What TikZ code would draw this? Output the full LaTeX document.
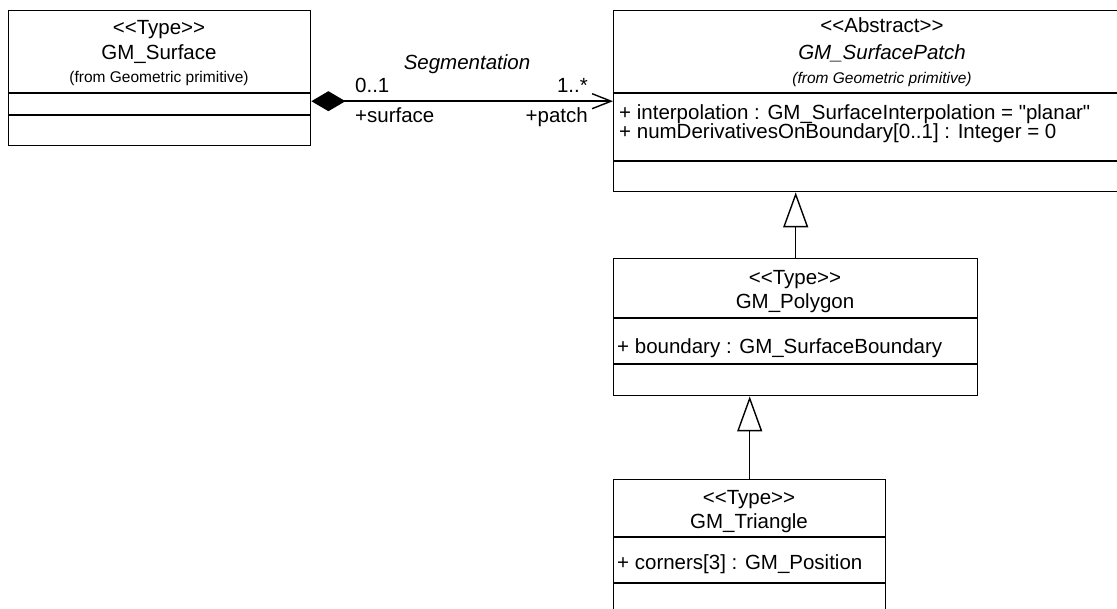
\documentclass[tikz,border=0pt]{standalone}
\usepackage{fontspec}
\setmainfont{Liberation Sans}[Ligatures=TeXOff]
\usetikzlibrary{arrows.meta,positioning}

\tikzset{
  classbox/.style={draw, line width=1.4pt, inner sep=0pt, anchor=north west},
  divider/.style={line width=1.4pt},
  classtext/.style={inner sep=0pt, anchor=base, font=\fontsize{20.5}{24}\selectfont},
  abstracttext/.style={classtext, font=\fontsize{20.5}{24}\selectfont\itshape},
  attrtext/.style={classtext, anchor=base west},
  fromtext/.style={inner sep=0pt, anchor=base, font=\fontsize{15.5}{18}\selectfont},
  rolelabel/.style={classtext},
  composition/.style={line width=1.4pt,
    {Diamond[length=34pt,width=20pt]}-{Straight Barb[length=19pt,width=15pt,line width=1.4pt]}},
  generalization/.style={line width=1.4pt,
    -{Triangle[open,length=35pt,width=25pt,fill=white,line width=1.4pt]}},
}

\begin{document}
\begin{tikzpicture}[x=1pt,y=-1pt]
\useasboundingbox (0,0) rectangle (1117,609);
\clip (0,0) rectangle (1117,609);

% class boxes
\node[classbox, minimum width=302, minimum height=135] (surface) at (8,10) {};
\node[classbox, minimum width=538, minimum height=181] (patch) at (613,10) {};
\node[classbox, minimum width=364, minimum height=137] (polygon) at (613,258) {};
\node[classbox, minimum width=272, minimum height=140] (triangle) at (613,479) {};

% compartments
\foreach \cls/\y in {surface/93, surface/115, patch/93, patch/161,
                     polygon/318, polygon/364, triangle/537, triangle/583}
  \draw[divider] (\cls.west |- 0,\y) -- (\cls.east |- 0,\y);

% GM_Surface
\node[classtext] (surface-st) at (159,35) {<<Type>>};
\node[classtext] (surface-nm) at (159,60) {GM\_Surface};
\node[fromtext] (surface-from) at (159,83) {(from Geometric primitive)};

% GM_SurfacePatch
\node[classtext] (patch-st) at (882,33) {<<Abstract>>};
\node[abstracttext] (patch-nm) at (882,60) {GM\_SurfacePatch};
\node[fromtext, font=\fontsize{15.5}{18}\selectfont\itshape] (patch-from) at (882,84) {(from Geometric primitive)};
\node[attrtext] (patch-a1) at (619,120) {+ interpolation : GM\_SurfaceInterpolation = "planar"};
\node[attrtext] (patch-a2) at (619,139) {+ numDerivativesOnBoundary[0..1] : Integer = 0};

% GM_Polygon
\node[classtext] (polygon-st) at (795,285) {<<Type>>};
\node[classtext] (polygon-nm) at (795,309) {GM\_Polygon};
\node[attrtext] (polygon-a1) at (617,354) {+ boundary : GM\_SurfaceBoundary};

% GM_Triangle
\node[classtext] (triangle-st) at (749,504) {<<Type>>};
\node[classtext] (triangle-nm) at (749,529) {GM\_Triangle};
\node[attrtext] (triangle-a1) at (617,569) {+ corners[3] : GM\_Position};

% Segmentation
\draw[composition] (surface.east |- patch.west) -- (patch.west);
\node[abstracttext] (seg-name) at (467,70) {Segmentation};
\node[rolelabel, anchor=base west] (seg-m1) at (355,93) {0..1};
\node[rolelabel, anchor=base west] (seg-r1) at (355,123) {+surface};
\node[rolelabel, anchor=base east] (seg-m2) at (588,93) {1..*};
\node[rolelabel, anchor=base east] (seg-r2) at (588,123) {+patch};

% inheritance
\draw[generalization] (polygon.north) -- (polygon.north |- patch.south);
\draw[generalization] (triangle.north) -- (triangle.north |- polygon.south);

\end{tikzpicture}
\end{document}
